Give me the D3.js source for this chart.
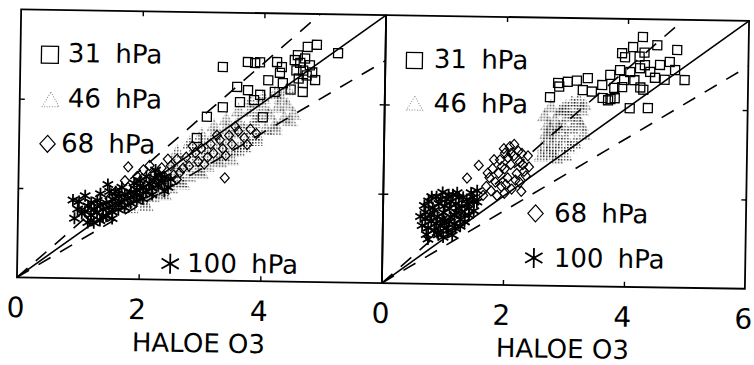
<!DOCTYPE html>
<html><head><meta charset="utf-8">
<script src="https://cdn.jsdelivr.net/npm/d3@7"></script>
<style>body{margin:0;background:#fff}svg{display:block}</style>
</head><body>
<svg id="c" width="754" height="365"></svg>
<script>
// ---------------- data ----------------
const axisMax = 6;
const xTicksLeft = [0, 2, 4];
const xTicksRight = [0, 2, 4, 6];
const innerTicks = [2, 4];
const xTitle = "HALOE O3";
const upperFactor = 1.22;
const lowerFactor = 0.83;
const seriesNames = ["31 hPa", "46 hPa", "68 hPa", "100 hPa"];

const left31 = [[3.33,4.78],[3.74,4.90],[3.94,4.90],[4.22,4.91],[4.08,4.50],[4.27,4.67],[4.32,4.44],[3.57,4.34],[3.75,4.27],[3.95,4.17],[4.19,4.24],[3.34,3.88],[3.62,4.00],[4.65,4.45],[4.65,4.25],[4.85,4.52],[5.22,5.13],[4.87,5.31],[4.72,5.26],[4.51,4.96],[4.60,4.90],[2.92,3.18],[3.08,3.66],[4.00,3.67],[4.56,5.07],[4.68,5.00],[4.76,4.85],[4.65,4.73],[4.80,4.69],[4.54,4.73],[4.71,4.62],[4.58,4.55],[3.85,4.05],[4.45,4.30],[3.86,4.88],[4.30,4.80]];
const left46 = [[1.75,1.70],[1.85,1.60],[1.95,1.85],[2.05,1.75],[2.15,2.00],[2.20,1.85],[2.30,2.15],[2.35,1.95],[2.45,2.30],[2.50,2.05],[2.60,2.40],[2.65,2.20],[2.75,2.55],[2.80,2.30],[2.90,2.65],[2.95,2.45],[3.05,2.80],[3.10,2.55],[3.15,2.95],[3.25,2.70],[3.30,3.05],[3.35,2.80],[3.45,3.15],[3.50,2.90],[3.55,3.30],[3.65,3.05],[3.70,3.40],[3.75,3.15],[3.85,3.55],[3.90,3.25],[3.95,3.65],[4.05,3.40],[4.10,3.75],[4.20,3.50],[4.25,3.90],[4.35,3.65],[4.40,3.95],[4.50,3.75],[3.00,3.05],[3.60,3.55],[4.00,3.90],[2.55,2.60],[3.20,3.25],[2.40,1.90],[2.70,2.15],[3.00,2.40],[3.30,2.65],[3.60,2.90],[3.90,3.15],[4.20,3.40],[4.45,3.60],[2.10,1.65],[2.25,2.25],[2.85,2.85],[3.40,3.40],[3.80,3.80],[4.30,4.10],[3.60,3.80],[3.80,4.00],[4.00,4.10],[3.40,3.60],[3.20,3.45],[3.00,3.25],[2.80,3.05],[2.60,2.85],[4.20,4.20],[4.40,4.30],[3.70,3.00],[3.50,2.70]];
const left68 = [[1.50,1.80],[1.60,1.95],[1.70,1.85],[1.80,2.05],[1.80,2.51],[1.90,2.00],[2.00,2.20],[2.05,2.45],[2.10,2.10],[2.20,2.35],[2.30,2.25],[2.35,2.50],[2.40,2.30],[2.50,2.55],[2.55,2.35],[2.60,2.70],[2.70,2.50],[2.75,2.75],[2.80,2.55],[2.90,2.85],[2.95,2.65],[3.00,2.95],[3.10,2.75],[3.15,3.05],[3.20,2.85],[3.30,3.15],[3.35,2.95],[3.39,2.30],[3.45,3.25],[3.50,3.05],[3.60,3.35],[3.70,3.20],[3.80,3.40],[3.90,3.30],[1.60,1.70],[1.75,2.20],[1.95,2.30],[2.15,2.55],[2.25,2.10],[2.45,2.70],[2.65,2.40],[2.85,3.00],[3.05,2.60],[3.25,3.25],[3.40,2.80],[3.55,3.45],[3.75,3.05],[2.00,1.95],[2.60,2.25]];
const left100 = [[0.90,1.75],[1.00,1.72],[0.93,1.34],[1.10,1.50],[1.15,1.62],[1.20,1.42],[1.25,1.55],[1.30,1.48],[1.35,1.65],[1.40,1.55],[1.45,1.70],[1.47,2.11],[1.50,1.60],[1.55,1.78],[1.60,1.68],[1.65,1.85],[1.70,1.72],[1.75,1.90],[1.80,1.80],[1.85,1.95],[1.90,1.85],[1.95,2.00],[2.00,1.88],[2.05,2.05],[2.10,1.95],[2.15,2.15],[2.20,2.05],[2.24,2.27],[2.30,2.10],[2.35,2.20],[2.46,2.07],[1.30,1.75],[1.60,1.95],[1.20,1.30],[1.40,1.38],[2.00,2.20],[1.05,1.45],[1.10,1.85],[1.20,1.70],[1.25,1.25],[1.35,1.90],[1.45,1.40],[1.50,1.95],[1.55,1.50],[1.65,1.55],[1.70,2.05],[1.75,1.60],[1.85,1.70],[1.90,2.15],[1.95,1.75],[2.05,1.80],[2.10,2.30],[2.20,1.90],[2.25,2.45],[2.30,2.35],[2.40,2.30],[1.15,1.25],[1.35,1.30],[1.55,1.35],[0.98,1.55],[2.50,2.25],[2.40,1.98]];

const right31 = [[2.73,4.22],[2.86,4.54],[3.02,4.57],[3.17,4.60],[3.35,4.66],[3.27,4.39],[3.42,4.36],[3.59,4.51],[3.60,4.22],[3.80,4.22],[3.69,4.17],[3.92,4.47],[4.05,4.00],[4.35,4.01],[3.91,5.23],[3.96,5.14],[4.09,5.37],[4.25,5.60],[4.20,5.16],[4.28,5.25],[4.49,5.42],[4.82,5.32],[4.70,5.05],[4.22,4.47],[4.27,4.42],[2.88,4.46],[3.73,4.20],[3.72,4.74],[3.88,4.85],[4.05,4.81],[4.21,4.90],[4.38,4.82],[4.54,4.98],[4.46,4.69],[4.62,4.65],[4.79,4.87],[4.29,4.97],[4.12,4.63],[3.95,4.63],[3.79,4.45],[4.95,4.65]];
const right46 = [[2.60,2.90],[2.65,3.10],[2.70,3.30],[2.72,3.00],[2.75,3.50],[2.80,3.20],[2.82,3.70],[2.85,3.40],[2.90,3.90],[2.90,3.10],[2.95,3.60],[3.00,3.30],[3.00,4.00],[3.05,3.80],[3.10,3.50],[3.10,4.10],[3.15,3.20],[3.20,3.70],[3.25,3.95],[3.30,3.40],[2.65,3.80],[2.75,4.00],[3.20,4.15],[2.85,2.85],[2.70,3.60],[2.80,2.95],[2.95,3.95],[3.05,3.10],[3.15,3.85],[3.25,3.60],[3.30,4.05],[2.68,3.40],[2.88,3.55],[3.00,2.90]];
const right68 = [[1.65,2.00],[1.70,2.20],[1.75,2.40],[1.78,2.10],[1.80,2.60],[1.85,2.30],[1.88,2.00],[1.90,2.50],[1.92,2.80],[1.95,2.20],[2.00,2.60],[2.00,2.95],[2.05,2.40],[2.08,3.10],[2.10,2.70],[2.12,2.15],[2.15,2.90],[2.20,2.50],[2.22,3.00],[2.25,2.30],[2.30,2.70],[2.35,2.45],[2.38,2.90],[2.00,2.05],[2.15,3.15],[1.38,2.38],[1.57,2.67],[2.28,2.10],[1.72,2.50],[1.82,2.80],[1.95,2.65],[2.02,2.25],[2.10,2.95],[2.18,2.35],[2.25,2.75],[2.32,2.55],[2.05,2.85],[1.98,3.05],[2.28,2.95],[2.40,2.65]];
const right100 = [[0.65,1.30],[0.70,1.60],[0.72,1.10],[0.75,1.85],[0.80,1.40],[0.82,1.70],[0.85,1.20],[0.88,1.95],[0.90,1.50],[0.92,1.80],[0.95,1.30],[0.98,2.05],[1.00,1.60],[1.02,1.40],[1.05,1.90],[1.08,1.20],[1.10,1.70],[1.12,1.50],[1.15,2.00],[1.18,1.35],[1.20,1.80],[1.22,1.60],[1.25,1.95],[1.28,1.45],[1.30,1.75],[1.35,1.55],[1.38,1.90],[1.42,1.70],[1.45,2.05],[1.50,1.85],[0.75,1.00],[1.00,1.05],[1.55,2.10],[0.90,1.15],[1.15,1.10],[0.70,1.45],[0.75,1.25],[0.78,1.55],[0.80,1.95],[0.85,1.65],[0.88,1.35],[0.92,1.10],[0.95,1.90],[0.98,1.45],[1.02,1.75],[1.05,1.25],[1.08,2.00],[1.10,1.40],[1.12,1.85],[1.18,1.55],[1.20,1.25],[1.22,2.05],[1.25,1.70],[1.28,1.30],[1.32,1.95],[1.35,1.40],[1.40,1.80],[1.42,1.55],[1.48,1.95],[1.50,1.65],[0.68,1.75],[0.62,1.50],[1.55,1.85]];

// ---------------- drawing ----------------
const svg = d3.select("#c");
const defs = svg.append("defs");
const pat = defs.append("pattern").attr("id","stip").attr("width",3).attr("height",3)
  .attr("patternUnits","userSpaceOnUse");
pat.append("rect").attr("width",1.5).attr("height",1.5).attr("fill","#000");

const root = svg.append("g").attr("transform","rotate(0.9,380,150)");
const FONT = "'DejaVu Sans', sans-serif";

function drawSym(g, type, cx, cy, s){
  if(type==="sq"){
    g.append("rect").attr("x",cx-s/2).attr("y",cy-s/2).attr("width",s).attr("height",s)
      .attr("fill","none").attr("stroke","#000").attr("stroke-width",1.3);
  } else if(type==="di"){
    const h=s/2;
    g.append("path").attr("d",`M${cx},${cy-h}L${cx+h*0.9},${cy}L${cx},${cy+h}L${cx-h*0.9},${cy}Z`)
      .attr("fill","none").attr("stroke","#000").attr("stroke-width",1.2);
  } else if(type==="tr"){
    const h=s*0.87;
    g.append("path").attr("d",`M${cx},${cy-h*0.6}L${cx+s/2},${cy+h*0.4}L${cx-s/2},${cy+h*0.4}Z`)
      .attr("fill","url(#stip)").attr("fill-opacity",0.7).attr("stroke","none");
  } else if(type==="trL"){
    const h=s*0.87;
    g.append("path").attr("d",`M${cx},${cy-h*0.6}L${cx+s/2},${cy+h*0.4}L${cx-s/2},${cy+h*0.4}Z`)
      .attr("fill","none").attr("stroke","#888").attr("stroke-width",1).attr("stroke-dasharray","1,1.6");
  } else if(type==="as"){
    const r=s/2; let d="";
    for(const a of [90,30,150]){
      const t=a*Math.PI/180, dx=r*Math.cos(t), dy=r*Math.sin(t);
      d+=`M${cx-dx},${cy-dy}L${cx+dx},${cy+dy}`;
    }
    g.append("path").attr("d",d).attr("fill","none").attr("stroke","#000").attr("stroke-width",1.8);
  }
}

const panels = [
  {x0:19, x1:384, labels:xTicksLeft, d31:left31, d46:left46, d68:left68, d100:left100,
   leg:[{t:"sq",cx:48.5,cy:60,s:17,tx:66.5,ty:67},{t:"trL",cx:50,cy:106,s:17,tx:67,ty:112},
        {t:"di",cx:47.5,cy:149,s:17,tx:61,ty:157},{t:"as",cx:172,cy:267,s:20,tx:189,ty:275}]},
  {x0:384, x1:747, labels:xTicksRight, d31:right31, d46:right46, d68:right68, d100:right100,
   leg:[{t:"sq",cx:413,cy:60,s:16,tx:432.5,ty:67},{t:"trL",cx:414,cy:104,s:16,tx:433,ty:111},
        {t:"di",cx:536.5,cy:211,s:17,tx:555,ty:219},{t:"as",cx:535.5,cy:255.5,s:20,tx:555.5,ty:264}]}
];
const Ytop=15, Ybot=283;

panels.forEach((p,i)=>{
  const x = d3.scaleLinear().domain([0,axisMax]).range([p.x0,p.x1]);
  const y = d3.scaleLinear().domain([0,axisMax]).range([Ybot,Ytop]);
  const g = root.append("g");
  const cid="clip"+i;
  defs.append("clipPath").attr("id",cid).append("rect")
    .attr("x",p.x0).attr("y",Ytop).attr("width",p.x1-p.x0).attr("height",Ybot-Ytop);

  const plot = g.append("g").attr("clip-path",`url(#${cid})`);
  const line = d3.line().x(d=>x(d[0])).y(d=>y(d[1]));
  plot.append("path").attr("d",line([[0,0],[axisMax,axisMax]]))
    .attr("stroke","#000").attr("stroke-width",1.6).attr("fill","none");
  plot.append("path").attr("d",line([[0,0],[axisMax/upperFactor,axisMax]]))
    .attr("stroke","#000").attr("stroke-width",1.6).attr("fill","none").attr("stroke-dasharray","14,11");
  plot.append("path").attr("d",line([[0,0],[axisMax,axisMax*lowerFactor]]))
    .attr("stroke","#000").attr("stroke-width",1.6).attr("fill","none").attr("stroke-dasharray","14,11");

  p.d46.forEach(d=>drawSym(plot,"tr",x(d[0]),y(d[1]),16));
  p.d68.forEach(d=>drawSym(plot,"di",x(d[0]),y(d[1]),10));
  p.d100.forEach(d=>drawSym(plot,"as",x(d[0]),y(d[1]),12));
  p.d31.forEach(d=>drawSym(plot,"sq",x(d[0]),y(d[1]),9));

  g.append("rect").attr("x",p.x0).attr("y",Ytop).attr("width",p.x1-p.x0).attr("height",Ybot-Ytop)
    .attr("fill","none").attr("stroke","#000").attr("stroke-width",1.8);
  const tickAxes = [
    [d3.axisBottom(x), `translate(0,${Ybot})`],
    [d3.axisTop(x), `translate(0,${Ytop})`],
    [d3.axisLeft(y), `translate(${p.x0},0)`],
    [d3.axisRight(y), `translate(${p.x1},0)`]
  ];
  tickAxes.forEach(([ax,tr])=>{
    const a = g.append("g").attr("transform",tr)
      .call(ax.tickValues(innerTicks).tickSize(-5).tickFormat(""));
    a.select(".domain").remove();
    a.selectAll("line").attr("stroke","#000").attr("stroke-width",1.4);
  });
  const lab = g.append("g").attr("transform",`translate(0,${Ybot})`)
    .call(d3.axisBottom(x).tickValues(p.labels).tickSize(0).tickPadding(20).tickFormat(d3.format("d")));
  lab.select(".domain").remove();
  lab.selectAll("text").attr("font-family",FONT).attr("font-size",28).attr("fill","#000").attr("dx",-1.5);

  g.append("text").attr("x",(p.x0+p.x1)/2).attr("y",355).attr("text-anchor","middle")
    .attr("font-family",FONT).attr("font-size",26).text(xTitle);

  p.leg.forEach((L,k)=>{
    drawSym(g,L.t,L.cx,L.cy,L.s);
    g.append("text").attr("x",L.tx).attr("y",L.ty).attr("font-family",FONT).attr("font-size",26)
      .attr("word-spacing",6).text(seriesNames[k]);
  });
});
</script>
</body></html>
